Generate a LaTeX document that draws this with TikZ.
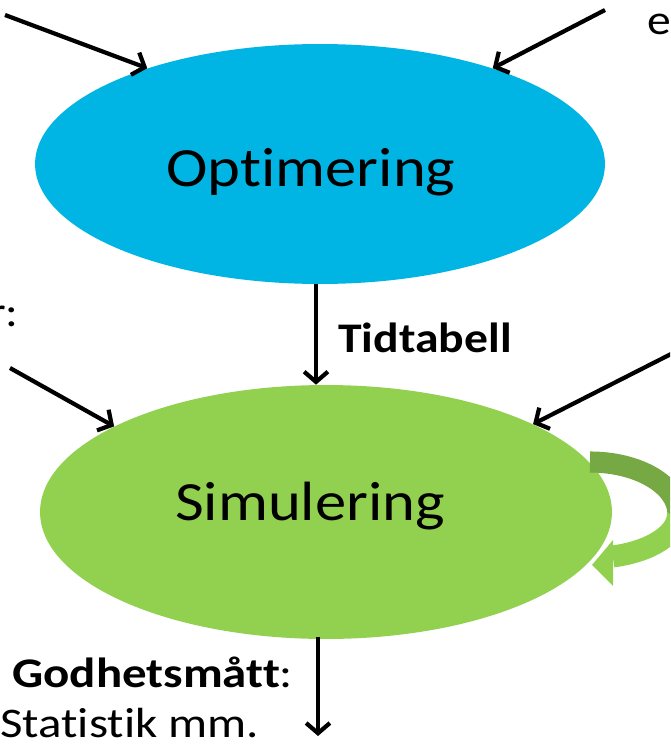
\documentclass[tikz,border=0pt]{standalone}
\usepackage{fontspec}
\setmainfont[Ligatures=NoCommon]{Carlito}
\usetikzlibrary{arrows.meta,shapes.geometric}
\definecolor{optblue}{HTML}{00B5E4}
\definecolor{simgreen}{HTML}{92D050}
\definecolor{loopdark}{HTML}{76A843}
% slightly widened lettering
\newcommand{\wide}[1]{\scalebox{1.13}[1]{#1}}
\tikzset{
  flow/.style={line width=2.4pt, -{Straight Barb[length=5.8pt,width=13.5pt,line width=2.4pt]}},
  big/.style={font=\fontsize{31.5}{36}\selectfont, inner sep=0pt, anchor=base},
  mid/.style={font=\fontsize{24}{28}\selectfont, inner sep=0pt},
  process/.style={ellipse, inner sep=0pt},
}
\begin{document}
\begin{tikzpicture}[x=0.02cm,y=-0.02cm]
\useasboundingbox (0,0) rectangle (670,753);
\clip (0,0) rectangle (670,753);

% process ellipses
\node (opt) [process, fill=optblue, minimum width=11.4cm, minimum height=4.8cm] at (320,164) {};
\node (sim) [process, fill=simgreen, minimum width=11.44cm, minimum height=5.08cm] at (326,512) {};
\node (optlbl) [big] at (311,187) {\wide{Optimering}};
\node (simlbl) [big] at (310,520) {\wide{Simulering}};

% self loop on the simulation
\draw[loopdark, line width=12pt] (590,462) arc[start angle=-90, end angle=0, x radius=88, y radius=52];
\draw[simgreen, line width=12.5pt] (678,514) arc[start angle=0, end angle=75, x radius=88, y radius=44];
\fill[simgreen] (613,540) -- (592,565) -- (613,586) -- cycle;

% inputs
\coordinate (tl) at (5,15);
\coordinate (tr) at (605,10);
\coordinate (ml) at (10,368);
\coordinate (mr) at (675,352);
\coordinate (out) at (318,637);
\coordinate (outend) at (318,736);
\draw[flow] (tl) -- (opt.151);
\draw[flow] (tr) -- (opt.29);
\draw[flow] (ml) -- (sim.158);
\draw[flow] (mr) -- (sim.23);
\draw[flow] (opt.south -| 316,0) -- (sim.north -| 316,0);
\draw[flow] (out) -- (outend);

% labels
\node (e) [mid, anchor=base west] at (647,35) {\wide{e}};
\node (r) [mid, anchor=base east] at (19,326) {\wide{r:}};
\node (tid) [mid, font=\fontsize{24}{28}\selectfont\bfseries, anchor=base west] at (338,352) {\wide{Tidtabell}};
\node (god) [mid, anchor=base west] at (12,687) {\scalebox{1.16}[1]{\textbf{Godhetsmått}:}};
\node (stat) [mid, anchor=base west] at (0,737) {\scalebox{1.16}[1]{Statistik mm.}};
\end{tikzpicture}
\end{document}
